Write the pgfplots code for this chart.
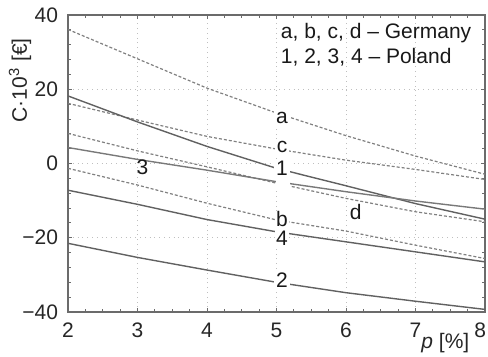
\documentclass[border=0pt]{standalone}
\usepackage{fontspec}
\setmainfont{Liberation Sans}
\usepackage{pgfplots}
\pgfplotsset{compat=1.18}
\definecolor{axisgray}{gray}{0.42}
\definecolor{solidgray}{gray}{0.38}
\definecolor{dashgray}{gray}{0.50}
\begin{document}
\begin{tikzpicture}
\begin{axis}[
  scale only axis,
  width=208.5pt, height=148.5pt,
  xmin=2, xmax=8, ymin=-40, ymax=40,
  xtick={2,3,4,5,6,7,8},
  ytick={-40,-20,0,20,40},
  yticklabels={−40,−20,0,20,40},
  xticklabels={2,3,4,5,6,7,\hbox to 0pt{\hss 8\hskip-0.5pt}},
  minor x tick num=3,
  minor y tick num=4,
  tick align=inside,
  major tick length=2pt,
  minor tick length=1.5pt,
  axis line style={axisgray, line width=0.7pt},
  every tick/.style={axisgray, line width=0.4pt},
  grid=major,
  major grid style={black!25, dotted, line width=0.5pt},
  tick label style={font=\fontsize{10.5}{12}\selectfont, text=black!85},
  xticklabel style={yshift=-2pt},
  yticklabel style={xshift=-1.5pt},
  ylabel={C·10\textsuperscript{3} [€]},
  ylabel style={at={(axis description cs:-0.115,0.78)}, anchor=center, font=\fontsize{10.5}{12}\selectfont, text=black!85},
  xlabel={\textit{p} [\%]},
  xlabel style={at={(axis description cs:0.905,-0.104)}, anchor=center, font=\fontsize{10.5}{12}\selectfont, text=black!85},
  clip=true,
]
% Germany (dashed)
\addplot[dashgray, line width=0.6pt, dash pattern=on 1.5pt off 1pt] coordinates {(2,36.1)(3,28.2)(4,20.3)(5,13.6)(6,7.5)(7,2.0)(8,-2.9)}; % a
\addplot[dashgray, line width=0.6pt, dash pattern=on 1.5pt off 1pt] coordinates {(2,-1.3)(3,-5.8)(4,-10.7)(5,-15.2)(6,-18.2)(7,-22.0)(8,-25.6)}; % b
\addplot[dashgray, line width=0.6pt, dash pattern=on 1.5pt off 1pt] coordinates {(2,16.2)(3,11.7)(4,7.3)(5,3.9)(6,0.9)(7,-1.6)(8,-4.3)}; % c
\addplot[dashgray, line width=0.6pt, dash pattern=on 1.5pt off 1pt] coordinates {(2,8.1)(3,3.4)(4,-0.9)(5,-5.3)(6,-9.4)(7,-13.0)(8,-15.7)}; % d
% Poland (solid)
\addplot[solidgray, line width=0.7pt] coordinates {(2,18.2)(3,11.2)(4,4.6)(5,-1.3)(6,-6.0)(7,-10.8)(8,-15.0)}; % 1
\addplot[solidgray, line width=0.7pt] coordinates {(2,-21.5)(3,-25.3)(4,-28.7)(5,-32.0)(6,-34.8)(7,-37.1)(8,-39.3)}; % 2
\addplot[solidgray!85, line width=0.7pt] coordinates {(2,4.3)(3,1.1)(4,-1.8)(5,-4.9)(6,-7.6)(7,-10.1)(8,-12.3)}; % 3
\addplot[solidgray, line width=0.7pt] coordinates {(2,-7.2)(3,-11.0)(4,-15.1)(5,-18.4)(6,-21.1)(7,-23.8)(8,-26.5)}; % 4
% curve labels
\begin{scope}[every node/.style={font=\fontsize{10.5}{12}\selectfont, text=black!90, inner sep=1pt}]
\node[fill=white, minimum width=7pt] at (axis cs:5.08,12.3) {a};
\node[fill=white, minimum width=7pt] at (axis cs:5.08,4.5) {c};
\node[fill=white, minimum width=7pt] at (axis cs:5.08,-1.3) {1};
\node[fill=white, minimum width=7pt, minimum height=5pt, inner sep=0pt] at (axis cs:5.1,-5.2) {};
\node[fill=white, minimum width=7pt, inner sep=0.2pt] at (axis cs:5.08,-14.9) {b};
\node[fill=white, minimum width=7pt, inner sep=0.2pt] at (axis cs:5.08,-20.1) {4};
\node[fill=white, minimum width=7pt] at (axis cs:5.08,-31.4) {2};
\node at (axis cs:3.07,-1.0) {3};
\node at (axis cs:6.14,-13.0) {d};
\node[anchor=west] at (axis cs:5.03,35.1) {a, b, c, d – Germany};
\node[anchor=west] at (axis cs:5.03,28.7) {1, 2, 3, 4 – Poland};
\end{scope}
\end{axis}
\path (current axis.south west) ++(-34pt,-22pt) coordinate (BL);
\path (current axis.north east) ++(1.5pt,7.5pt) coordinate (TR);
\pgfresetboundingbox
\useasboundingbox (BL) rectangle (TR);
\end{tikzpicture}
\end{document}
